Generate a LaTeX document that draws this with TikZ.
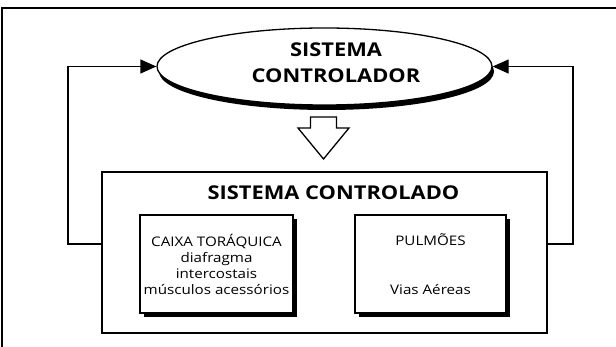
\documentclass[tikz,border=0pt]{standalone}
\usepackage{fontspec}
\setmainfont{Open Sans}[FakeStretch=1.15]
\usetikzlibrary{positioning,shapes.geometric,arrows.meta,shadows}

\begin{document}
\begin{tikzpicture}[x=1pt,y=-1pt,
    caixa/.style={draw,line width=1.3pt,fill=white,minimum width=153pt,minimum height=98pt,
      align=center,inner sep=0pt,font=\fontsize{13.2}{16}\selectfont,
      drop shadow={shadow xshift=4pt,shadow yshift=-4pt,opacity=1,fill=black}},
    feedback/.style={line width=1.3pt,-{Triangle[length=16pt,width=14pt]}}]
  \useasboundingbox (0,0) rectangle (616,347);
  % moldura
  \draw[line width=2pt] (2,347) -- (2,8) -- (616,8);
  % sistema controlador
  \node[ellipse,draw,line width=1.3pt,fill=white,minimum width=335pt,minimum height=77pt,
        drop shadow={shadow xshift=2pt,shadow yshift=-5pt,opacity=1,fill=black}] (ctrl) at (324.5,66.5) {};
  \node[font=\bfseries\fontsize{19}{26}\selectfont,align=center] (ctrltxt) at (336,63) {SISTEMA\\CONTROLADOR};
  % seta vazada
  \draw[line width=1.3pt,fill=white] (310.5,117) -- (336.5,117) -- (336.5,128) -- (349,128)
     -- (323.5,159) -- (298,128) -- (310.5,128) -- cycle;
  % sistema controlado
  \node[draw,line width=1.3pt,minimum width=445pt,minimum height=161pt] (controlado) at (324.5,252.5) {};
  \node[font=\bfseries\fontsize{19}{20}\selectfont] (titulo) at (333.5,192.5) {SISTEMA CONTROLADO};
  \node[caixa] (torax) at (216.5,264) {CAIXA TORÁQUICA\\diafragma\\intercostais\\músculos acessórios};
  \node[caixa,minimum width=151pt] (pulmoes) at (430.5,264) {PULMÕES\\[33pt]Vias Aéreas};
  % realimentacao
  \coordinate (lturn) at (68,244);
  \coordinate (rturn) at (573,244);
  \draw[feedback] (controlado.west |- lturn) -- (lturn) |- (ctrl.west);
  \draw[feedback] (controlado.east |- rturn) -- (rturn) |- (ctrl.east);
\end{tikzpicture}
\end{document}
